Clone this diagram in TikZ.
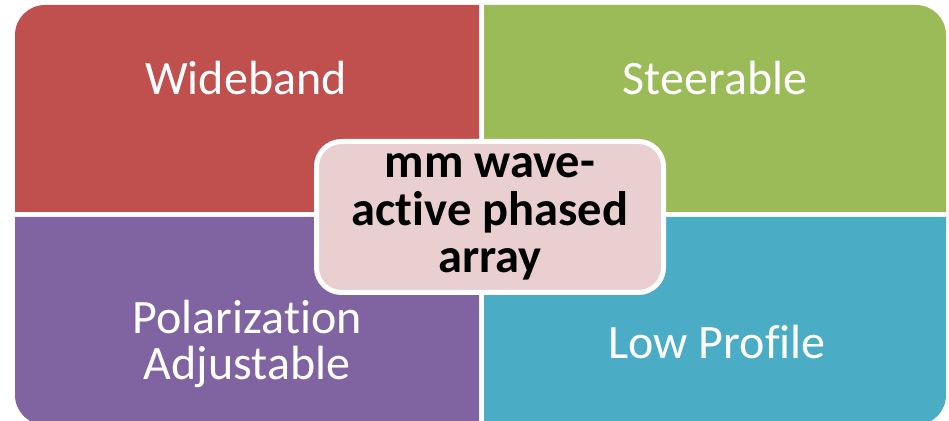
\documentclass[tikz,border=0pt]{standalone}
\usepackage{fontspec}
\setmainfont{Carlito}[Ligatures=NoCommon]
\usepackage{tikz}
\definecolor{widered}{HTML}{C0504D}
\definecolor{steergreen}{HTML}{9BBB59}
\definecolor{polpurple}{HTML}{8064A2}
\definecolor{lowblue}{HTML}{4BACC6}
\definecolor{corepink}{HTML}{E9CFCF}
\tikzset{
    quadlabel/.style={text=white, font=\fontsize{48}{46}\selectfont, align=center, inner sep=0pt},
    corebox/.style={draw=white, line width=5pt, fill=corepink, rounded corners=25pt,
        minimum width=347pt, minimum height=151pt, align=center, inner sep=0pt,
        font=\fontsize{48.5}{47.5}\selectfont\bfseries}
}

\begin{document}
\begin{tikzpicture}[x=1pt,y=1pt]
    \clip (0,0) rectangle (949,420);
    \fill[widered] (15,208) -- (15,385) arc[start angle=180, end angle=90, radius=30] -- (479,415) -- (479,208) -- cycle;
    \fill[steergreen] (484,208) -- (484,415) -- (916,415) arc[start angle=90, end angle=0, radius=30] -- (946,208) -- cycle;
    \fill[polpurple] (15,203) -- (15,25) arc[start angle=180, end angle=270, radius=30] -- (479,-5) -- (479,203) -- cycle;
    \fill[lowblue] (484,203) -- (484,-5) -- (916,-5) arc[start angle=270, end angle=360, radius=30] -- (946,203) -- cycle;

    \node[quadlabel, anchor=base] (wide) at (246,325) {Wideband};
    \node[quadlabel, anchor=base] (steer) at (715,325) {Steerable};
    \node[quadlabel] (pol) at (247,76) {Polarization\\Adjustable};
    \node[quadlabel, anchor=base] (low) at (717,62) {Low Profile};

    \node[corebox] (core) at (490,203) {mm wave-\\active phased\\array};
\end{tikzpicture}
\end{document}
